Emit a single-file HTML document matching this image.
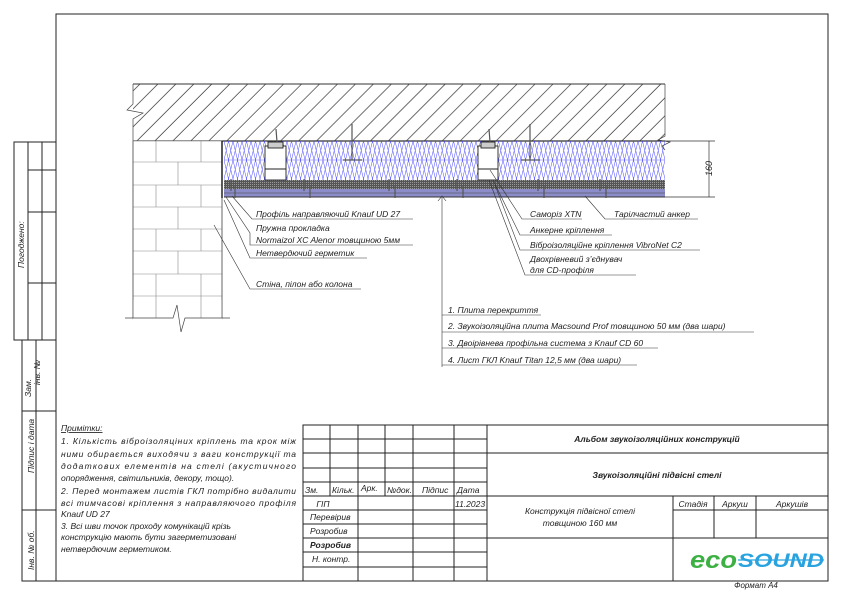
<!DOCTYPE html>
<html><head><meta charset="utf-8"><style>
html,body{margin:0;padding:0;background:#fff;}
svg{display:block;}
text{font-family:"Liberation Sans","DejaVu Sans",sans-serif;font-style:italic;fill:#222;}
</style></head><body>
<svg width="842" height="595" viewBox="0 0 842 595" xmlns="http://www.w3.org/2000/svg">
<defs>
<pattern id="hatch" width="12.7" height="12.7" patternUnits="userSpaceOnUse" patternTransform="rotate(45)">
<line x1="6" y1="0" x2="6" y2="12.7" stroke="#333" stroke-width="0.7"/>
</pattern>
<pattern id="ins" width="9" height="19" patternUnits="userSpaceOnUse" x="224" y="141">
<path d="M0,0 L4.5,19 L9,0 M0,19 L4.5,0 L9,19" stroke="#4a4aff" stroke-width="0.5" fill="none"/>
</pattern>
<pattern id="dots" width="2" height="2" patternUnits="userSpaceOnUse">
<rect width="2" height="2" fill="#555"/><rect width="1" height="1" fill="#999"/>
</pattern>
</defs>
<g fill="none" stroke="#222">
<rect x="56" y="14" width="772" height="567" stroke-width="1"/>
<rect x="14" y="142" width="42" height="198"/>
<line x1="28" y1="142" x2="28" y2="340"/><line x1="42" y1="142" x2="42" y2="340"/>
<line x1="28" y1="170" x2="56" y2="170"/><line x1="28" y1="212" x2="56" y2="212"/><line x1="28" y1="283" x2="56" y2="283"/>
<rect x="22" y="340" width="34" height="241"/>
<line x1="36" y1="340" x2="36" y2="581"/>
<line x1="22" y1="411" x2="56" y2="411"/><line x1="22" y1="510" x2="56" y2="510"/>
</g>
<rect x="133" y="84" width="532" height="57" fill="url(#hatch)"/>
<line x1="133" y1="84" x2="665" y2="84" stroke="#333"/>
<line x1="133" y1="141" x2="665" y2="141" stroke="#333" stroke-width="1.2"/>
<g stroke="#444" stroke-width="0.7" fill="none">
<path d="M133,84 L133,104 L127,110 L143,113 L133,119 L133,141"/>
<path d="M665,84 L665,136 L658,140 L670,142 L662,146 L665,150"/>
</g>
<g stroke="#888" stroke-width="0.6" fill="none">
<rect x="133" y="141" width="89" height="178" fill="#fff"/>
<line x1="133" y1="162" x2="222" y2="162"/><line x1="133" y1="185" x2="222" y2="185"/><line x1="133" y1="207" x2="222" y2="207"/><line x1="133" y1="229" x2="222" y2="229"/><line x1="133" y1="251" x2="222" y2="251"/><line x1="133" y1="274" x2="222" y2="274"/><line x1="133" y1="296" x2="222" y2="296"/>
<line x1="156" y1="141" x2="156" y2="162"/><line x1="201" y1="141" x2="201" y2="162"/>
<line x1="178" y1="162" x2="178" y2="185"/>
<line x1="156" y1="185" x2="156" y2="207"/><line x1="201" y1="185" x2="201" y2="207"/>
<line x1="178" y1="207" x2="178" y2="229"/>
<line x1="156" y1="229" x2="156" y2="251"/><line x1="201" y1="229" x2="201" y2="251"/>
<line x1="178" y1="251" x2="178" y2="274"/>
<line x1="156" y1="274" x2="156" y2="296"/><line x1="201" y1="274" x2="201" y2="296"/>
</g>
<rect x="133" y="300" width="89" height="40" fill="#fff"/>
<g stroke="#888" stroke-width="0.6"><line x1="156" y1="296" x2="156" y2="318"/><line x1="201" y1="296" x2="201" y2="318"/></g>
<g stroke="#444" stroke-width="0.7" fill="none">
<line x1="133" y1="141" x2="133" y2="318"/><line x1="222" y1="141" x2="222" y2="318"/>
<path d="M125,318 L173,318 L177,305 L181,332 L185,318 L230,318"/>
</g>
<rect x="224" y="141" width="441" height="39" fill="url(#ins)"/>
<line x1="224" y1="160" x2="665" y2="160" stroke="#4a4aff" stroke-width="0.4"/>
<rect x="224" y="180" width="441" height="9" fill="url(#dots)"/>
<rect x="224" y="189" width="441" height="8" fill="#8c8cc8"/>
<line x1="224" y1="193" x2="665" y2="193" stroke="#444" stroke-width="0.5"/>
<line x1="224" y1="197" x2="665" y2="197" stroke="#333"/>
<line x1="222" y1="141" x2="222" y2="198" stroke="#222" stroke-width="1.5"/>
<g stroke="#222" stroke-width="0.9" fill="#fff">
<rect x="265" y="146" width="21" height="34"/><line x1="265" y1="169" x2="286" y2="169"/>
<rect x="268" y="142" width="15" height="6" fill="#ccc"/>
<rect x="478" y="146" width="20" height="34"/><line x1="478" y1="169" x2="498" y2="169"/>
<rect x="481" y="142" width="14" height="6" fill="#ccc"/>
</g>
<g stroke="#555" stroke-width="1.2">
<line x1="276" y1="129" x2="277" y2="142"/><line x1="489" y1="129" x2="490" y2="142"/>
<line x1="352" y1="124" x2="352" y2="160"/><line x1="343" y1="160" x2="362" y2="160"/>
<line x1="530" y1="124" x2="530" y2="160"/><line x1="521" y1="160" x2="540" y2="160"/>
<line x1="231" y1="179" x2="231" y2="191"/><line x1="235" y1="185" x2="235" y2="198"/>
<line x1="304" y1="179" x2="304" y2="191"/><line x1="310" y1="185" x2="310" y2="198"/>
<line x1="389" y1="179" x2="389" y2="191"/><line x1="395" y1="185" x2="395" y2="198"/>
<line x1="457" y1="179" x2="457" y2="191"/><line x1="463" y1="185" x2="463" y2="198"/>
<line x1="538" y1="179" x2="538" y2="191"/><line x1="544" y1="185" x2="544" y2="198"/>
<line x1="600" y1="179" x2="600" y2="191"/><line x1="606" y1="185" x2="606" y2="198"/>
</g>
<g stroke="#333" stroke-width="0.7" fill="none">
<line x1="665" y1="141" x2="715" y2="141"/><line x1="665" y1="197" x2="715" y2="197"/>
<line x1="709" y1="141" x2="709" y2="197"/>
</g>
<text x="0" y="0" font-size="9" transform="translate(712,176) rotate(-90)">160</text>
<g stroke="#333" stroke-width="0.6" fill="none">
<path d="M232,196 L252,219 L413,219"/>
<path d="M226,197 L250,233 L250,245 L413,245"/>
<path d="M224,200 L250,258 L367,258"/>
<path d="M214,225 L250,289 L361,289"/>
<path d="M442,197 L442,367"/><path d="M438,201 L442,196 L446,201"/>
<line x1="442" y1="315" x2="541" y2="315"/><line x1="442" y1="332" x2="754" y2="332"/>
<line x1="442" y1="348" x2="658" y2="348"/><line x1="442" y1="365" x2="637" y2="365"/>
<path d="M490,170 L522,219 L582,219"/>
<path d="M493,180 L520,235 L612,235"/>
<path d="M495,185 L520,250 L700,250"/>
<path d="M489,180 L525,275 L636,275"/>
<path d="M585,196 L605,219 L698,219"/>
</g>
<g font-size="8.5">
<text x="256" y="217">Профіль направляючий Knauf UD 27</text>
<text x="256" y="231">Пружна прокладка</text>
<text x="256" y="243">Normaizol XC Alenor товщиною 5мм</text>
<text x="256" y="256">Нетвердючий герметик</text>
<text x="256" y="287">Стіна, пілон або колона</text>
<text x="530" y="217">Саморіз XTN</text>
<text x="530" y="233">Анкерне кріплення</text>
<text x="530" y="248">Віброізоляційне кріплення VibroNet C2</text>
<text x="530" y="262">Двохрівневий з’єднувач</text>
<text x="530" y="273">для CD-профіля</text>
<text x="614" y="217">Тарілчастий анкер</text>
<text x="448" y="313">1. Плита перекриття</text>
<text x="448" y="329">2. Звукоізоляційна плита Macsound Prof товщиною 50 мм (два шари)</text>
<text x="448" y="346">3. Двоірівнева профільна система з Knauf CD 60</text>
<text x="448" y="363">4. Лист ГКЛ Knauf Titan 12,5 мм (два шари)</text>
</g>
<g font-size="8.5">
<text transform="translate(24,268) rotate(-90)">Погоджено:</text>
<text transform="translate(31,397) rotate(-90)">Зам.</text>
<text transform="translate(40,385) rotate(-90)">інв. №</text>
<text transform="translate(34,473) rotate(-90)">Підпис і дата</text>
<text transform="translate(34,570) rotate(-90)">Інв. № об.</text>
</g>
<g font-size="8.5">
<text x="61" y="431" text-decoration="underline">Примітки:</text>
<text x="61" y="444" textLength="235" lengthAdjust="spacing">1. Кількість віброізоляціних кріплень та крок між</text>
<text x="61" y="457" textLength="235" lengthAdjust="spacing">ними обирається виходячи з ваги конструкції та</text>
<text x="61" y="469" textLength="235" lengthAdjust="spacing">додаткових елементів на стелі (акустичного</text>
<text x="61" y="481">опорядження, світильників, декору, тощо).</text>
<text x="61" y="494" textLength="235" lengthAdjust="spacing">2. Перед монтажем листів ГКЛ потрібно видалити</text>
<text x="61" y="506" textLength="235" lengthAdjust="spacing">всі тимчасові кріплення з направляючого профіля</text>
<text x="61" y="517">Knauf UD 27</text>
<text x="61" y="529">3. Всі шви точок проходу комунікацій крізь</text>
<text x="61" y="540">конструкцію мають бути загерметизовані</text>
<text x="61" y="552">нетвердючим герметиком.</text>
</g>
<g stroke="#222" stroke-width="1" fill="none">
<rect x="303" y="425" width="525" height="156"/>
<line x1="330" y1="425" x2="330" y2="496"/><line x1="385" y1="425" x2="385" y2="496"/>
<line x1="358" y1="425" x2="358" y2="581"/><line x1="413" y1="425" x2="413" y2="581"/>
<line x1="454" y1="425" x2="454" y2="581"/><line x1="487" y1="425" x2="487" y2="581"/>
<line x1="303" y1="439" x2="487" y2="439"/><line x1="303" y1="453" x2="828" y2="453"/>
<line x1="303" y1="468" x2="487" y2="468"/><line x1="303" y1="482" x2="487" y2="482"/>
<line x1="303" y1="496" x2="828" y2="496"/><line x1="303" y1="510" x2="487" y2="510"/>
<line x1="303" y1="524" x2="487" y2="524"/><line x1="303" y1="538" x2="828" y2="538"/>
<line x1="303" y1="552" x2="487" y2="552"/><line x1="303" y1="567" x2="487" y2="567"/>
<line x1="673" y1="496" x2="673" y2="581"/><line x1="714" y1="496" x2="714" y2="538"/>
<line x1="756" y1="496" x2="756" y2="538"/><line x1="673" y1="510" x2="828" y2="510"/>
</g>
<g font-size="8.5">
<text x="305" y="493">Зм.</text><text x="332" y="493">Кільк.</text><text x="361" y="491">Арк.</text>
<text x="387" y="493">№док.</text><text x="422" y="493">Підпис</text><text x="457" y="493">Дата</text>
<text x="323" y="507" text-anchor="middle">ГІП</text><text x="455" y="507">11.2023</text>
<text x="310" y="520">Перевірив</text><text x="310" y="534">Розробив</text>
<text x="310" y="548" font-weight="bold">Розробив</text><text x="312" y="562">Н. контр.</text>
<text x="657" y="442" text-anchor="middle" font-weight="bold">Альбом звукоізоляційних конструкцій</text>
<text x="657" y="478" text-anchor="middle" font-weight="bold">Звукоізоляційні підвісні стелі</text>
<text x="580" y="514" text-anchor="middle" fill="#555">Конструкція підвісної стелі</text>
<text x="580" y="526" text-anchor="middle" fill="#555">товщиною 160 мм</text>
<text x="693" y="507" text-anchor="middle">Стадія</text><text x="735" y="507" text-anchor="middle">Аркуш</text>
<text x="792" y="507" text-anchor="middle">Аркушів</text>
<text x="756" y="588" text-anchor="middle" font-size="8">Формат А4</text>
</g>
<text x="690" y="568" font-size="24" font-weight="bold" font-style="normal" style="fill:#3cb043" textLength="47" lengthAdjust="spacingAndGlyphs">eco</text>
<text x="738" y="567" font-size="19" font-weight="bold" font-style="normal" style="fill:#29a3e0" textLength="86" lengthAdjust="spacingAndGlyphs">SOUND</text>
<line x1="738" y1="560" x2="824" y2="560" stroke="#29a3e0" stroke-width="1.2"/>
</svg>
</body></html>
